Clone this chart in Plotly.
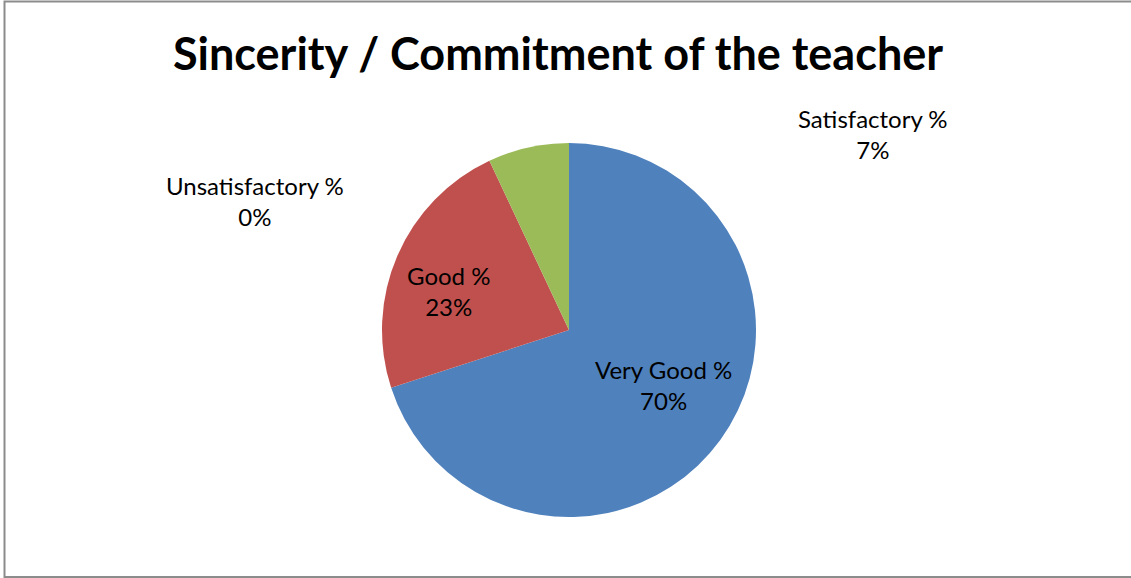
import plotly.graph_objects as go

labels = ['Very Good %', 'Good %', 'Satisfactory %', 'Unsatisfactory %']
values = [70, 23, 7, 0]
colors = ['#4F81BD', '#C0504D', '#9BBB59', '#8064A2']

# label centres in pixels (x from left, y from top)
label_pos = [(663, 385), (448, 291), (873, 134), (255, 201)]

font = 'Lato, Open Sans, sans-serif'
W, H = 1131, 578

texts = [f'{l}<br>{v}%' for l, v in zip(labels, values)]

pie = go.Pie(labels=labels, values=values, sort=False, direction='clockwise',
             rotation=0, marker=dict(colors=colors), textinfo='none',
             domain=dict(x=[382 / W, 756 / W], y=[1 - 517 / H, 1 - 143 / H]),
             showlegend=False, hoverinfo='label+value')

fig = go.Figure(data=[pie])

fig.update_layout(
    width=W, height=H,
    margin=dict(l=0, r=0, t=0, b=0),
    paper_bgcolor='white',
    title=dict(text='<b>Sincerity / Commitment of the teacher</b>',
               x=558 / W, xanchor='center', y=1 - 54 / H, yanchor='middle',
               font=dict(family=font, size=45, color='black')),
    annotations=[dict(text=t, x=px / W, y=1 - py / H, xref='paper', yref='paper',
                      xanchor='center', yanchor='middle', showarrow=False,
                      font=dict(family=font, size=24, color='black'))
                 for t, (px, py) in zip(texts, label_pos)],
    shapes=[dict(type='rect', xref='paper', yref='paper',
                 x0=4.5 / W, x1=1140 / W, y0=1 - 577 / H, y1=1 - 1.5 / H,
                 line=dict(color='#8C8C8C', width=2))],
)

fig.write_html('out.html', config={'displayModeBar': False},
               post_script="document.body.style.margin='0';")
